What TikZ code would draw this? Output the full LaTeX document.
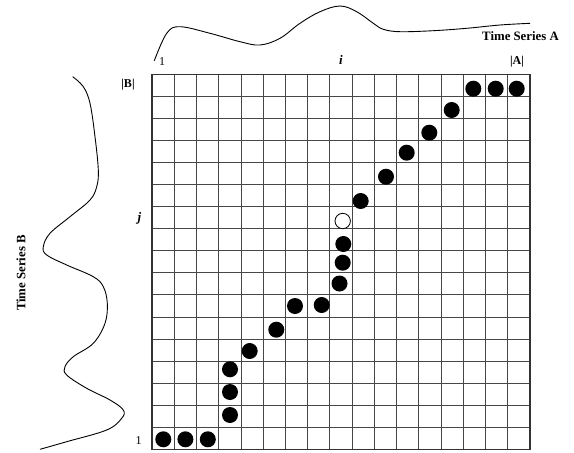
\documentclass[tikz,border=0pt]{standalone}
\usepackage{fontspec}
\setmainfont{Liberation Serif}
\begin{document}
\begin{tikzpicture}[x=1pt,y=-1pt,
  gridline/.style={line width=0.9pt, draw=black!72},
  border/.style={line width=1.2pt, draw=black!80},
  dotfill/.style={fill=black},
  dotopen/.style={draw=black, fill=white, line width=0.8pt},
  series/.style={line width=0.9pt, draw=black},
  title/.style={font=\fontsize{12.8}{14}\selectfont\bfseries, inner sep=0pt},
  lab/.style={font=\fontsize{12}{13}\selectfont, inner sep=0pt},
  blab/.style={font=\fontsize{12}{13}\selectfont\bfseries, inner sep=0pt},
  ilab/.style={font=\fontsize{13}{14}\selectfont\bfseries\itshape, inner sep=0pt}]
\useasboundingbox (0,0) rectangle (574,453);
% grid
\foreach \k in {0,...,17} {
  \draw[gridline] ({152+\k*22.24},74.3) -- ({152+\k*22.24},449.3);
  \draw[gridline] (152,{74.3+\k*22.06}) -- (530,{74.3+\k*22.06});
}
\draw[border] (152,74.3) rectangle (530,449.3);
% warping path
\foreach \p in {(163.3,439.3),(185.4,439.3),(207.8,439.3),
  (230,415),(230,392),(230,369.3),(249.7,351),(276.3,329.7),
  (295,306),(321.7,305),(339.5,283.5),(342.7,262.7),(343.3,244),
  (360.7,201),(386,176.7),(406.7,152.7),(429.3,132.7),(451.7,110),
  (473.3,88.7),(495.7,88.7),(516.7,88.7)} {
  \fill[dotfill] \p circle (8pt);
}
\draw[dotopen] (342.7,221) circle (7.7pt);
% time series A
\draw[series] plot[smooth, tension=0.6] coordinates {
 (154.3,60.7) (166.7,33.3) (180,26.7) (210,33.3) (240,41.7) (260,45)
 (280,38.3) (300,23.3) (320,11.7) (340,6) (356.7,11.7) (373.3,23.3)
 (383.3,29.3) (400,31.7) (433.3,30.7) (466.7,28.3) (500,25) (530,23.3)};
% time series B
\draw[series] plot[smooth, tension=0.6] coordinates {
 (72.7,76.7) (83.3,86.7) (90,103.3) (95,136.7) (98.3,170) (96.7,186.7)
 (90,200) (70,216.7) (50,233.3) (43.3,246.7) (46.7,255) (66.7,265)
 (93.3,276.7) (103.3,286.7) (107.3,303.3) (105,323.3) (93.3,343.3)
 (73.3,356.7) (65,366.7) (66.7,375) (86.7,388.3) (110,400) (123.3,410)
 (121.7,418.3) (106.7,430) (66.7,441.7) (40,449.3)};
% labels
\node[title] (tsa) at (520.5,36) {Time Series A};
\node[title, rotate=90] (tsb) at (21,273) {Time Series B};
\node[blab] (A) at (517,61.5) {|A|};
\node[blab] (B) at (128,85) {|B|};
\node[lab] (one1) at (162,61.5) {1};
\node[lab] (one2) at (138.5,441) {1};
\node[ilab] (i) at (341,60) {i};
\node[ilab] (j) at (139.5,218) {j};
\end{tikzpicture}
\end{document}
